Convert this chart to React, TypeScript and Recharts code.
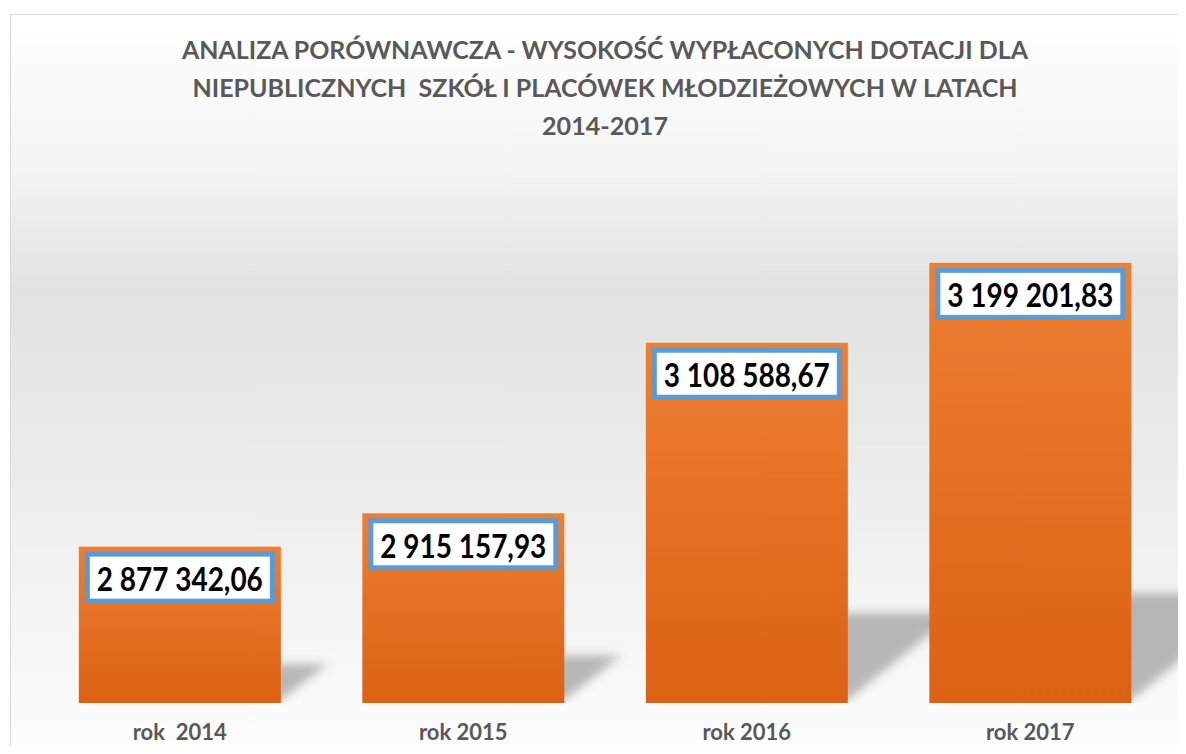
import React from 'react';
import { BarChart, Bar, XAxis, YAxis, LabelList } from 'recharts';

const years = ['rok  2014', 'rok 2015', 'rok 2016', 'rok 2017'];
const amounts = [2877342.06, 2915157.93, 3108588.67, 3199201.83];
const amountLabels = ['2 877 342,06', '2 915 157,93', '3 108 588,67', '3 199 201,83'];
const titleLines = [
  'ANALIZA PORÓWNAWCZA - WYSOKOŚĆ WYPŁACONYCH DOTACJI DLA',
  'NIEPUBLICZNYCH  SZKÓŁ I PLACÓWEK MŁODZIEŻOWYCH W LATACH',
  '2014-2017',
];
const titleWidths = [846, 825, 126];
const yDomain = [2700000, 3300000];

const data = years.map((year, i) => ({ year, amount: amounts[i], label: amountLabels[i] }));

const FONT = 'Lato, "Open Sans", sans-serif';

// orange bar with a soft perspective shadow behind it
function ShadowBar(props: any) {
  const { x, y, width, height, index } = props;
  const bottom = y + height;
  const rise = height * 0.25;
  const lean = height * 0.3;
  const gid = `barFill${index}`;
  const fid = `barShadow${index}`;
  return (
    <g>
      <defs>
        <linearGradient id={gid} x1="0" y1="0" x2="0" y2="1">
          <stop offset="0%" stopColor="#ee7e32" />
          <stop offset="100%" stopColor="#dc6114" />
        </linearGradient>
        <filter id={fid} x="-50%" y="-50%" width="200%" height="200%">
          <feGaussianBlur stdDeviation="5" />
        </filter>
      </defs>
      <polygon
        points={`${x + 20},${bottom - 3} ${x + width},${bottom - 3} ${x + width + lean},${bottom - rise} ${x + 20 + lean},${bottom - rise}`}
        fill="#8c8c8c"
        opacity={0.6}
        filter={`url(#${fid})`}
      />
      <rect x={x} y={y} width={width} height={height} fill={`url(#${gid})`} />
    </g>
  );
}

function AmountTag(props: any) {
  const { x, y, width, value } = props;
  const boxX = x + 8.5;
  const boxY = y + 7.5;
  const boxW = width - 17;
  const boxH = 47;
  return (
    <g>
      <rect x={boxX} y={boxY} width={boxW} height={boxH} fill="#ffffff" stroke="#5b9bd5" strokeWidth={5} />
      <text
        x={x + width / 2}
        y={boxY + boxH / 2 + 1}
        textAnchor="middle"
        dominantBaseline="central"
        fontFamily={FONT}
        fontWeight={700}
        fontSize={32}
        fill="#000000"
        textLength={166}
        lengthAdjust="spacingAndGlyphs"
      >
        {value}
      </text>
    </g>
  );
}

function YearTick(props: any) {
  const { x, y, payload } = props;
  return (
    <text
      x={x}
      y={y + 29}
      textAnchor="middle"
      fontFamily={FONT}
      fontWeight={700}
      fontSize={22}
      fill="#595959"
      style={{ whiteSpace: 'pre' }}
    >
      {payload.value}
    </text>
  );
}

export default function App() {
  return (
    <div style={{ position: 'relative', width: 1186, height: 754, margin: -8, overflow: 'hidden', background: '#ffffff' }}>
      <div
        style={{
          position: 'absolute',
          left: 10,
          top: 14,
          width: 1190,
          height: 760,
          border: '1px solid #d9d9d9',
          background: 'linear-gradient(180deg, #ffffff 0%, #f4f4f4 20%, #e2e2e2 36%, #ececec 60%, #f7f7f7 85%, #ffffff 100%)',
        }}
      />
      <svg width={1186} height={160} style={{ position: 'absolute', left: 0, top: 0 }}>
        {titleLines.map((line, i) => (
          <text
            key={i}
            x={605}
            y={59 + i * 38}
            textAnchor="middle"
            fontFamily={FONT}
            fontWeight={700}
            fontSize={24}
            fill="#595959"
            textLength={titleWidths[i]}
            lengthAdjust="spacingAndGlyphs"
            style={{ whiteSpace: 'pre' }}
          >
            {line}
          </text>
        ))}
      </svg>
      <div style={{ position: 'absolute', left: 0, top: 0 }}>
        <BarChart
          width={1186}
          height={754}
          data={data}
          margin={{ top: 174, right: 14, bottom: 0, left: 38 }}
          barCategoryGap="14.4%"
        >
          <XAxis dataKey="year" axisLine={false} tickLine={false} height={51} tick={<YearTick />} interval={0} />
          <YAxis hide domain={yDomain} allowDataOverflow />
          <Bar dataKey="amount" shape={<ShadowBar />} isAnimationActive={false}>
            <LabelList dataKey="label" content={<AmountTag />} />
          </Bar>
        </BarChart>
      </div>
    </div>
  );
}
